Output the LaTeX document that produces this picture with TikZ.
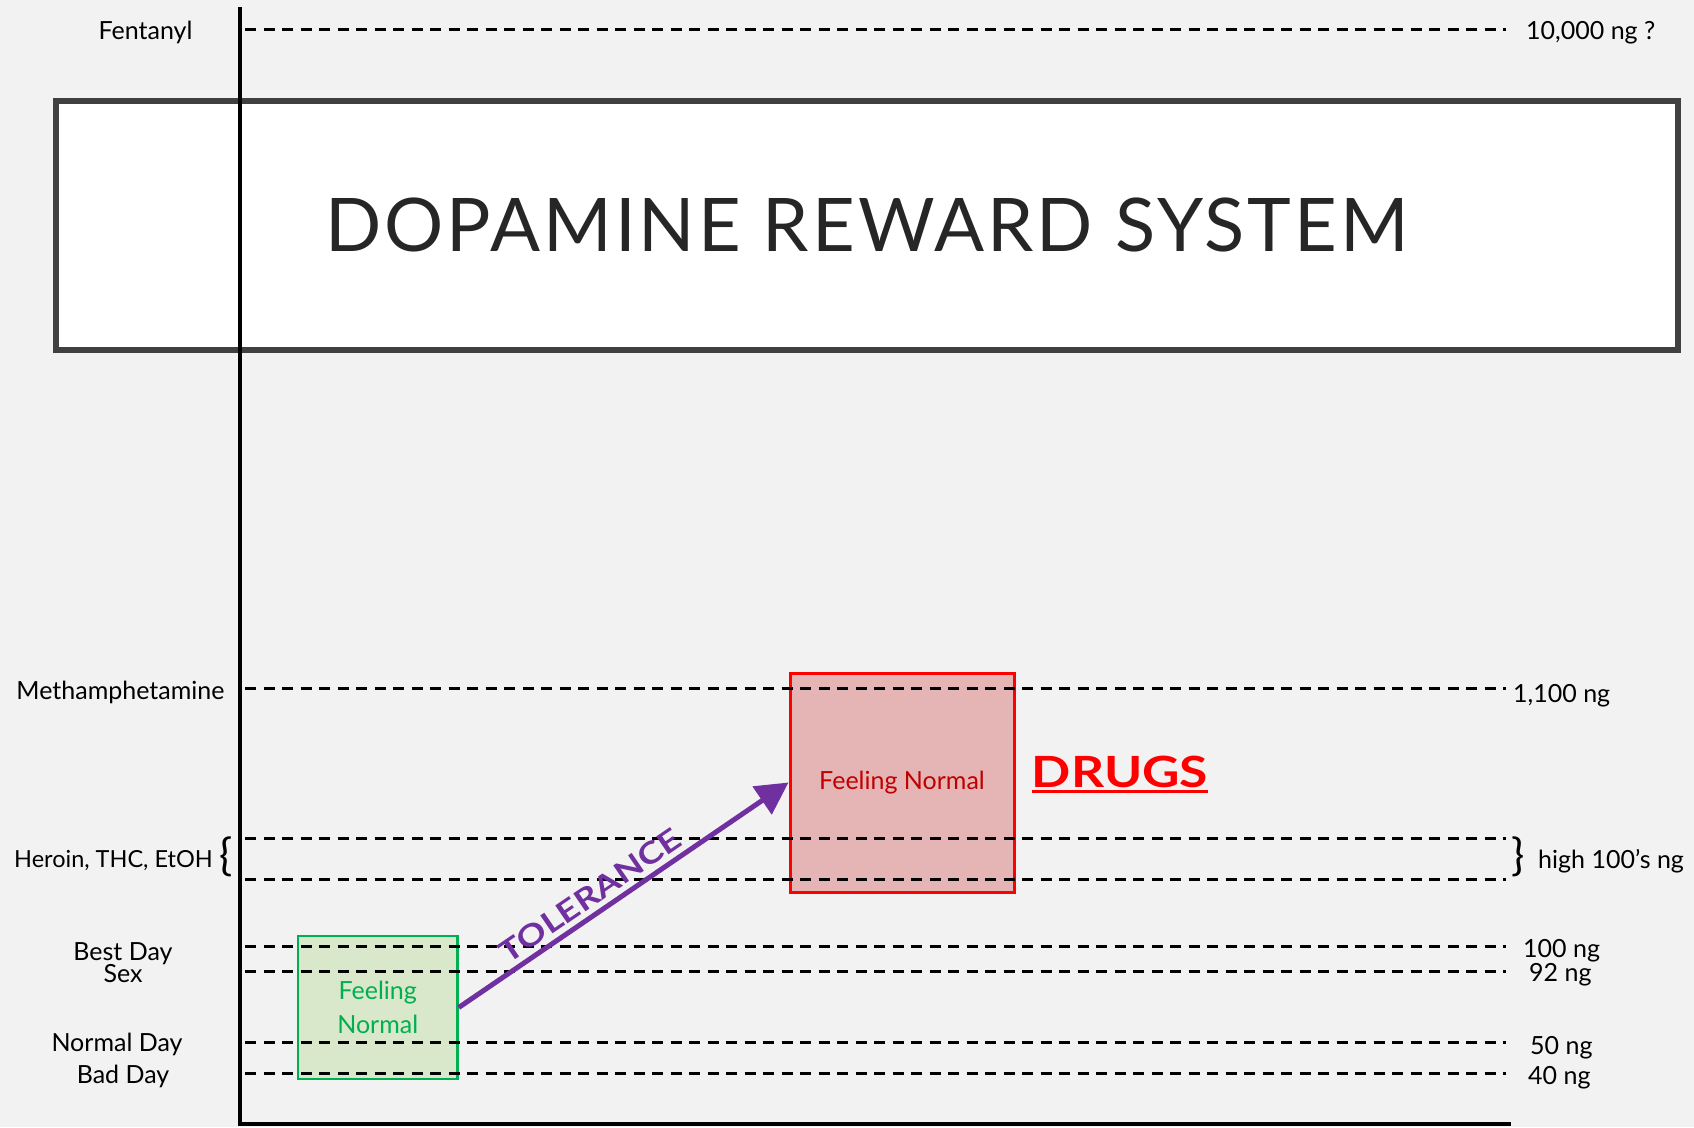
\documentclass[tikz,border=0pt]{standalone}
\usepackage{fontspec}
\setmainfont{Lato}
\usetikzlibrary{arrows.meta}
\definecolor{bg}{HTML}{F2F2F2}
\definecolor{titlegray}{HTML}{404040}
\definecolor{titletext}{HTML}{262626}
\definecolor{greenbd}{HTML}{00B050}
\definecolor{greenfill}{HTML}{D9E7CB}
\definecolor{redbd}{HTML}{FF0000}
\definecolor{redfill}{HTML}{E5B5B5}
\definecolor{redtext}{HTML}{C00000}
\definecolor{tolpurple}{HTML}{7030A0}
\begin{document}
\begin{tikzpicture}[x=1pt,y=-1pt,
  lbl/.style={font=\fontsize{25}{30}\selectfont, inner sep=0pt, anchor=base},
  rlbl/.style={lbl, anchor=base west},
  lvl/.style={line width=3pt, dash pattern=on 11pt off 7.5pt},
  axisln/.style={line width=4.5pt, line cap=rect},
  brace/.style={font=\fontsize{44}{50}\selectfont, inner sep=0pt, anchor=center},
  levelbox/.style={inner sep=0pt, align=center, font=\fontsize{25}{34}\selectfont}
]
\useasboundingbox (0,0) rectangle (1694,1127);
\fill[bg] (0,0) rectangle (1694,1127);

% title box
\node[draw=titlegray, line width=6pt, fill=white, minimum width=1622.5pt, minimum height=249.5pt,
      inner sep=0pt, text=titletext, font=\fontsize{74}{80}\selectfont\addfontfeatures{LetterSpace=4}] (title) at (866.75,225.25)
      {DOPAMINE REWARD SYSTEM};

% boxes
\node[levelbox, draw=greenbd, line width=2.5pt, fill=greenfill, text=greenbd,
      minimum width=159.5pt, minimum height=143pt] (calm) at (377.75,1007.5) {Feeling\\Normal};
\node[levelbox, draw=redbd, line width=3pt, fill=redfill, text=redtext,
      minimum width=224pt, minimum height=219pt] (high) at (902,782.5) {Feeling Normal};

% levels
\foreach \n/\y in {fent/29, meth/688, herA/838, herB/879, best/946, sex/971, norm/1042, bad/1073}{
  \coordinate (\n L) at (245,\y);
  \coordinate (\n R) at (1506,\y);
}
\foreach \n in {fent, meth, herA, herB, best, sex, norm, bad}{
  \draw[lvl] (\n L) -- (\n R);
}

% axes
\coordinate (axtop) at (240,9);
\coordinate (origin) at (240,1124);
\coordinate (axend) at (1509,1124);
\draw[axisln] (axtop) -- (origin) -- (axend);

% tolerance arrow
\draw[tolpurple, line width=5pt, -{Triangle[length=32pt, width=33pt]}] (calm.east) --
  node[pos=0.43, sloped, above=5pt, inner sep=0pt, font=\bfseries\fontsize{30}{32}\selectfont]
  (tol) {\scalebox{1.22}[1]{TOLERANCE}} (high.west);

% DRUGS
\node[inner sep=0pt, anchor=base, text=redbd, font=\bfseries\fontsize{43}{48}\selectfont] (drugs) at (1120,787) {\scalebox{1.2}[1]{DRUGS}};
\draw[redbd, line width=3pt] ([yshift=-4.5pt]drugs.base west) -- ([yshift=-4.5pt]drugs.base east);

% left labels
\node[lbl] (lfent) at (145.5,39) {Fentanyl};
\node[lbl] (lmeth) at (120.5,699) {Methamphetamine};
\node[lbl, font=\fontsize{23.5}{28}\selectfont] (lher) at (113.5,867) {Heroin, THC, EtOH};
\node[brace] (lbrace) at (226,857) {\{};
\node[lbl] (lbest) at (123,960) {Best Day};
\node[lbl] (lsex) at (123,982) {Sex};
\node[lbl] (lnorm) at (117,1051) {Normal Day};
\node[lbl] (lbad) at (123,1083) {Bad Day};

% right labels
\node[rlbl] (rfent) at (1526,39) {10,000 ng ?};
\node[rlbl] (rmeth) at (1513,702) {1,100 ng};
\node[brace] (rbrace) at (1518.5,857) {\}};
\node[rlbl] (rher) at (1538,868) {high 100’s ng};
\node[rlbl] (rbest) at (1523,957) {100 ng};
\node[rlbl] (rsex) at (1529,981) {92 ng};
\node[rlbl] (rnorm) at (1530,1054) {50 ng};
\node[rlbl] (rbad) at (1528,1084) {40 ng};
\end{tikzpicture}
\end{document}
